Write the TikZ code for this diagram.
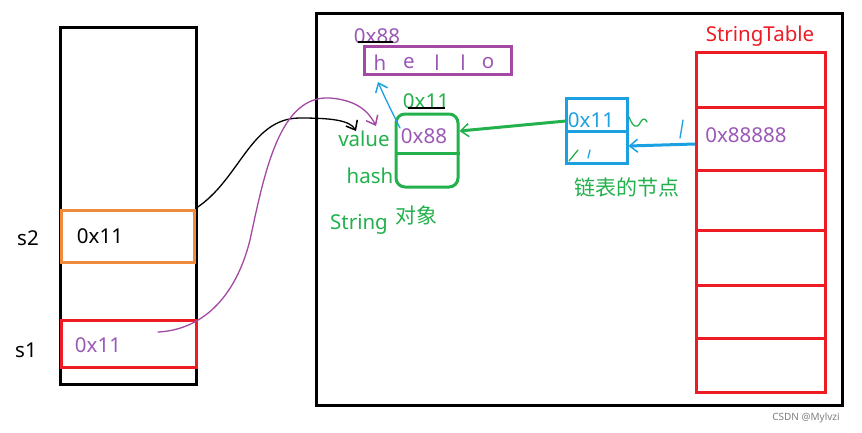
\documentclass[tikz,border=0pt]{standalone}
\usepackage{fontspec}
\setmainfont{Noto Sans}
\newfontfamily\cjk{Noto Sans CJK SC}
\usetikzlibrary{arrows.meta}
\definecolor{pgreen}{HTML}{22B14C}
\definecolor{ppurple}{HTML}{A349A4}
\definecolor{tpurple}{HTML}{9B59B6}
\definecolor{pblue}{HTML}{1BA1E2}
\definecolor{pred}{HTML}{ED1C24}
\definecolor{porange}{HTML}{F08A3C}
\tikzset{
  lbl/.style={inner sep=0pt, font=\fontsize{20.5}{20.5}\selectfont},
  cjklbl/.style={inner sep=0pt, font=\cjk\fontsize{21}{21}\selectfont},
  blk/.style={draw=black, line width=3pt},
  hand/.style={line width=1.3pt, line cap=round},
  tip/.style={-{Straight Barb[length=8pt,width=13pt,line width=1.5pt]}},
}
\begin{document}
\begin{tikzpicture}[x=1pt,y=-1pt]
\useasboundingbox (0,0) rectangle (862,432);
\fill[white] (0,0) rectangle (862,432);

% stack
\draw[blk] (60,27) rectangle (196,384);
\node[draw=porange, line width=3pt, minimum width=133pt, minimum height=52pt, inner sep=0pt] (s2) at (127.5,236) {};
\node[draw=pred, line width=3pt, minimum width=135pt, minimum height=47pt, inner sep=0pt] (s1) at (128.5,343.5) {};
\node[lbl, text=black] (s2v) at (100,236) {0x11};
\node[lbl, text=tpurple] (s1v) at (98,345) {0x11};
\node[lbl] (s2l) at (28,238) {s2};
\node[lbl] (s1l) at (26,350) {s1};

% heap
\draw[blk] (316,13) rectangle (842,405);

% hello
\node[lbl, text=tpurple] (a88) at (377,36) {0x88};
\draw[line width=1.5pt] (358,42) -- (393,42);
\node[draw=ppurple, line width=3pt, minimum width=147pt, minimum height=28pt, inner sep=0pt] (hello) at (437.5,60) {};
\node[lbl, text=tpurple] at (380,63) {h};
\node[lbl, text=tpurple] at (409,63) {e};
\node[lbl, text=tpurple] at (437,63) {l};
\node[lbl, text=tpurple] at (463,63) {l};
\node[lbl, text=tpurple] at (488,63) {o};

% String object
\node[lbl, text=pgreen] (a11) at (426,101) {0x11};
\draw[line width=1.5pt] (408,108) -- (445,108);
\node[draw=pgreen, line width=3pt, rounded corners=9pt, minimum width=62pt, minimum height=73pt, inner sep=0pt] (str) at (427,150.5) {};
\draw[pgreen, line width=3pt] (str.west |- 0,153) -- (str.east |- 0,153);
\node[lbl, text=tpurple] (v88) at (424,136) {0x88};
\node[lbl, text=pgreen] (value) at (364,139) {value};
\node[lbl, text=pgreen] (hash) at (370,176) {hash};
\node[lbl, text=pgreen] (strl) at (359,224) {String};
\node[cjklbl, text=pgreen] (obj) at (416,215) {对象};

% linked node
\node[draw=pblue, line width=3pt, minimum width=61pt, minimum height=65pt, inner sep=0pt] (ln) at (596.5,130.5) {};
\draw[pblue, line width=3pt] (ln.west |- 0,131) -- (ln.east |- 0,131);
\node[lbl, text=pblue] (l11) at (591,120) {0x11};
\node[cjklbl, text=pgreen] (lnl) at (627,187) {链表的节点};

% StringTable
\node[lbl, text=pred] (stl) at (760,36) {StringTable};
\node[draw=pred, line width=3pt, minimum width=129pt, minimum height=340pt, inner sep=0pt] (tab) at (760.5,222) {};
\foreach \yy in {107,170,230,285,338} \draw[pred, line width=3pt] (696,\yy) -- (825,\yy);
\node[lbl, text=tpurple] (t8) at (746,135) {0x88888};

% arrows
\coordinate (gs) at (566,121);
\draw[pgreen, line width=3pt, tip] (gs) -- (str.east |- 0,131);
\coordinate (bs) at (695,144);
\draw[pblue, line width=3pt, tip] (bs) -- (ln.east |- 0,146);
\coordinate (bh) at (378,82);
\draw[pblue, hand, tip] (400,128) .. controls (392,112) and (385,98) .. (bh);
\coordinate (ve) at (356,131);
\draw[black, hand, tip] (s2.north east) .. controls (240,180) and (250,118) .. (300,118) .. controls (330,118) and (350,120) .. (ve);
\coordinate (pe) at (376,126);
\draw[ppurple, hand, tip] (158,332) .. controls (200,330) and (235,300) .. (250,240) .. controls (265,170) and (280,95) .. (330,98) .. controls (355,100) and (368,110) .. (pe);

% small marks
\draw[pgreen, hand] (629,117) .. controls (633,127) and (637,129) .. (640,123) .. controls (642,119) and (645,117) .. (647,122);
\draw[pblue, hand] (683,120) -- (680,138);
\draw[pblue, hand] (590,150) -- (588,158);
\draw[pgreen, hand] (578,150) -- (569,161);

\node[inner sep=0pt, text=gray, font=\fontsize{10}{10}\selectfont] (wm) at (806,418) {CSDN @Mylvzi};
\end{tikzpicture}
\end{document}
